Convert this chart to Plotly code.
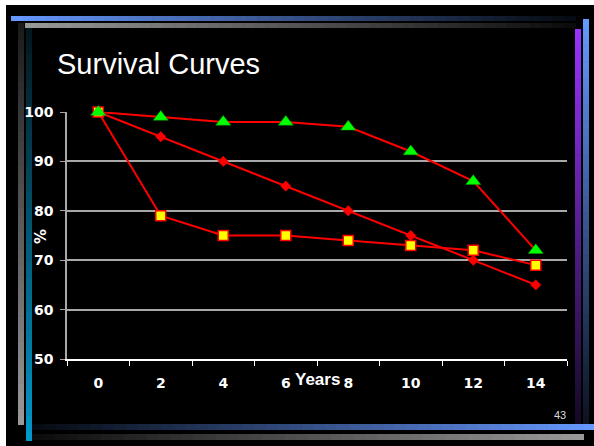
import plotly.graph_objects as go

# ---- data -------------------------------------------------------------
years = ["0", "2", "4", "6", "8", "10", "12", "14"]
survival_a = [100, 99, 98, 98, 97, 92, 86, 72]   # green triangles
survival_b = [100, 95, 90, 85, 80, 75, 70, 65]   # red diamonds
survival_c = [100, 79, 75, 75, 74, 73, 72, 69]   # yellow squares
y_ticks = [50, 60, 70, 80, 90, 100]

# ---- page geometry ----------------------------------------------------
W, H = 594, 446
ML, MR, MT, MB = 67, 27, 112, 87
PW, PH = W - ML - MR, H - MT - MB


def px(x):
    return (x - ML) / PW


def py(y):
    return 1 - (y - MT) / PH


def hex_rgb(c):
    c = c.lstrip("#")
    return tuple(int(c[i:i + 2], 16) for i in (0, 2, 4))


def mix(c0, c1, t):
    a, b = hex_rgb(c0), hex_rgb(c1)
    return "rgb(%d,%d,%d)" % tuple(round(a[i] + (b[i] - a[i]) * t) for i in range(3))


def gradient_bar(x0, y0, x1, y1, c0, c1, horizontal=True, n=48):
    """Decorative bar as a strip of thin rectangles going from colour c0 to c1."""
    out = []
    for i in range(n):
        t0, t1 = i / n, (i + 1) / n
        col = mix(c0, c1, (i + 0.5) / n)
        if horizontal:
            a, b = x0 + (x1 - x0) * t0, x0 + (x1 - x0) * t1 + 0.6
            rect = (a, y0, min(b, x1), y1)
        else:
            a, b = y0 + (y1 - y0) * t0, y0 + (y1 - y0) * t1 + 0.6
            rect = (x0, a, x1, min(b, y1))
        out.append(dict(type="rect", xref="paper", yref="paper",
                        x0=px(rect[0]), x1=px(rect[2]),
                        y0=py(rect[1]), y1=py(rect[3]),
                        fillcolor=col, line=dict(width=0), layer="below"))
    return out


shapes = [
    # slide background
    dict(type="rect", xref="paper", yref="paper",
         x0=px(6), x1=px(W + 2), y0=py(5), y1=py(H + 2),
         fillcolor="black", line=dict(width=0), layer="below"),
]
# vertical bars
shapes += gradient_bar(18, 23, 24, 425, "#1a1a1a", "#9a9a9a", horizontal=False)
shapes += gradient_bar(26, 28, 32, 441, "#04161c", "#0099cc", horizontal=False)
shapes += gradient_bar(575, 29, 581, 430, "#9933ff", "#120820", horizontal=False)
shapes += gradient_bar(583, 19, 589, 424, "#6699ff", "#0c1220", horizontal=False)
# horizontal bars
shapes += gradient_bar(11, 16, 576, 21, "#6699ff", "#05080f")
shapes += gradient_bar(25, 23, 576, 28, "#9a9a9a", "#0a0a0a")
shapes += gradient_bar(32, 424, 594, 430, "#05080f", "#6699ff")
shapes += gradient_bar(32, 434, 584, 440, "#0a0a0a", "#9a9a9a")

fig = go.Figure()

fig.add_trace(go.Scatter(
    x=years, y=survival_b, mode="lines+markers", cliponaxis=False,
    line=dict(color="#ff0000", width=2),
    marker=dict(symbol="diamond", size=8, color="#ff0000",
                line=dict(color="#ff0000", width=0.5)),
))
fig.add_trace(go.Scatter(
    x=years, y=survival_c, mode="lines+markers", cliponaxis=False,
    line=dict(color="#ff0000", width=2),
    marker=dict(symbol="square", size=10, color="#ffff00",
                line=dict(color="#ff0000", width=1.5)),
))
fig.add_trace(go.Scatter(
    x=years, y=survival_a, mode="lines+markers", cliponaxis=False,
    line=dict(color="#ff0000", width=2),
    marker=dict(symbol="triangle-up", size=13, color="#00ff00",
                line=dict(color="#00a000", width=0.5)),
))

tick_font = dict(family="DejaVu Sans", size=14, color="white", weight="bold")

fig.update_layout(
    width=W, height=H,
    margin=dict(l=ML, r=MR, t=MT, b=MB, pad=0),
    paper_bgcolor="white",
    plot_bgcolor="black",
    showlegend=False,
    shapes=shapes,
    xaxis=dict(
        type="category", range=[-0.5, 7.5], tickson="boundaries",
        showgrid=False, zeroline=False,
        showline=True, linecolor="white", linewidth=1.5,
        ticks="outside", ticklen=5, tickcolor="white", tickwidth=1.2,
        tickfont=tick_font, ticklabelstandoff=10,
    ),
    yaxis=dict(
        range=[50, 100], tickvals=y_ticks,
        showgrid=True, gridcolor="#a8a8a8", gridwidth=1.5,
        zeroline=False,
        showline=True, linecolor="#a8a8a8", linewidth=1.5,
        ticks="outside", ticklen=5, tickcolor="#a8a8a8", tickwidth=1.2,
        tickfont=tick_font, ticklabelstandoff=4,
    ),
    annotations=[
        dict(text="Survival Curves", xref="paper", yref="paper",
             x=px(55), y=py(64), xanchor="left", yanchor="middle",
             showarrow=False,
             font=dict(family="Liberation Sans", size=29, color="white")),
        dict(text="Years", xref="paper", yref="paper",
             x=px(317), y=py(379), xanchor="center", yanchor="middle",
             showarrow=False,
             font=dict(family="Liberation Sans", size=17, color="white",
                       weight="bold")),
        dict(text="%", xref="paper", yref="paper",
             x=px(41), y=py(237), xanchor="center", yanchor="middle",
             textangle=-90, showarrow=False,
             font=dict(family="DejaVu Sans", size=15, color="white",
                       weight="bold")),
        dict(text="43", xref="paper", yref="paper",
             x=px(568), y=py(415), xanchor="right", yanchor="middle",
             showarrow=False,
             font=dict(family="Liberation Sans", size=11, color="#d8d8d8")),
    ],
)

fig.write_html("out.html")
